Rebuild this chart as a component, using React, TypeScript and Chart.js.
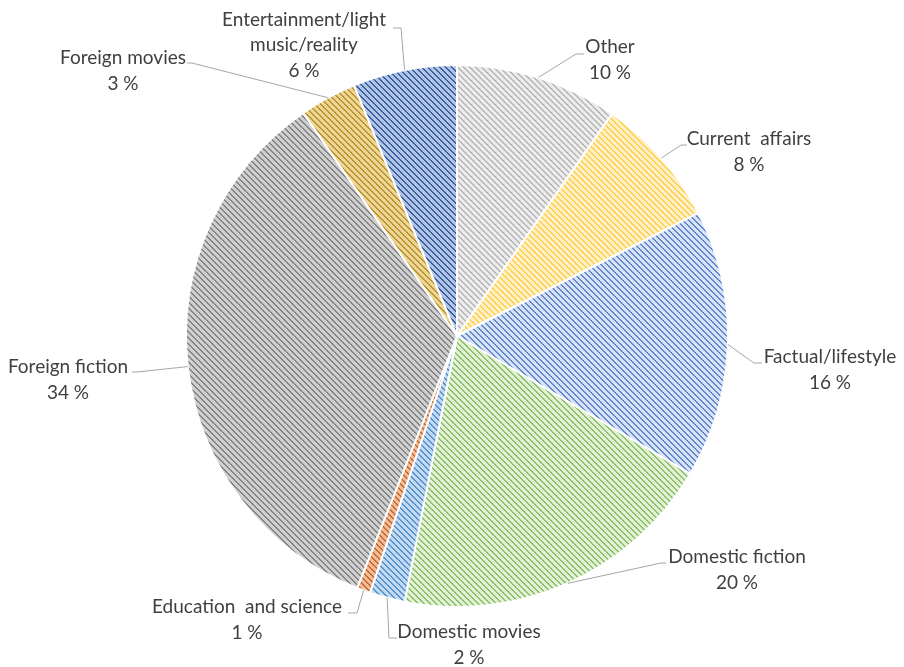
import React, { useEffect, useRef } from "react";
import { Chart, registerables } from "chart.js";

Chart.register(...registerables);

// ---- data ----
const categories: string[][] = [
  ["Other"],
  ["Current  affairs"],
  ["Factual/lifestyle"],
  ["Domestic fiction"],
  ["Domestic movies"],
  ["Education  and science"],
  ["Foreign fiction"],
  ["Foreign movies"],
  ["Entertainment/light", "music/reality"],
];
const shares = [9.7, 7.8, 16.0, 19.6, 2.1, 0.8, 34.4, 3.4, 6.2];

// ---- styles ----
const stripeColors = ["#b8b8b8", "#ffcf52", "#6089d2", "#8cc166", "#5793d0", "#c96a32", "#858585", "#bb962f", "#3a5fa2"];
const baseColors = ["#ebebeb", "#fff0c6", "#d8e2f4", "#e2f0d8", "#c3d9ef", "#f0bd98", "#cfcfcf", "#ecd596", "#b2c4e4"];

// label layout: offsets from pie centre (text block centre, leader elbow, leader end)
const labelLayout = [
  { text: [153, -276], elbow: [119, -282], end: [127, -282] },
  { text: [292, -184], elbow: [224, -191], end: [230, -191] },
  { text: [373, 34], elbow: [297, 27], end: [305, 27] },
  { text: [280, 234], elbow: [204, 227], end: [209, 227] },
  { text: [12, 309], elbow: [-68, 302], end: [-60, 302] },
  { text: [-210, 284], elbow: [-100, 277], end: [-109, 277] },
  { text: [-389, 44], elbow: [-320, 36], end: [-325, 36] },
  { text: [-334, -265], elbow: [-265, -273], end: [-270, -273] },
  { text: [-153, -291], elbow: [-56, -308], end: [-64, -308] },
];

function makePattern(fg: string, bg: string): CanvasPattern | string {
  const s = 6;
  const c = document.createElement("canvas");
  c.width = s;
  c.height = s;
  const g = c.getContext("2d");
  if (!g) return bg;
  g.fillStyle = bg;
  g.fillRect(0, 0, s, s);
  g.fillStyle = fg;
  for (let y = 0; y < s; y++) {
    for (let x = 0; x < s; x++) {
      const d = (((x - y) % s) + s) % s;
      if (d === 0 || d === 1) g.fillRect(x, y, 1, 1);
    }
  }
  const p = g.createPattern(c, "repeat");
  return p || bg;
}

const labelPlugin = {
  id: "pieLabels",
  afterDatasetsDraw(chart: any) {
    const ctx = chart.ctx as CanvasRenderingContext2D;
    const meta = chart.getDatasetMeta(0);
    const total = shares.reduce((a, b) => a + b, 0);
    ctx.save();
    meta.data.forEach((arc: any, i: number) => {
      const p = arc.getProps(["x", "y", "startAngle", "endAngle", "outerRadius"], true);
      const mid = (p.startAngle + p.endAngle) / 2;
      const sx = p.x + Math.cos(mid) * p.outerRadius;
      const sy = p.y + Math.sin(mid) * p.outerRadius;
      const L = labelLayout[i];
      ctx.strokeStyle = "#a6a6a6";
      ctx.lineWidth = 1;
      ctx.beginPath();
      ctx.moveTo(sx, sy);
      ctx.lineTo(p.x + L.elbow[0], p.y + L.elbow[1]);
      ctx.lineTo(p.x + L.end[0], p.y + L.end[1]);
      ctx.stroke();

      const lines = [...categories[i], Math.round((shares[i] / total) * 100) + " %"];
      const lh = 25.5;
      const top = p.y + L.text[1] - ((lines.length - 1) * lh) / 2;
      ctx.fillStyle = "#404040";
      ctx.font = "19px Lato, 'Open Sans', sans-serif";
      ctx.textAlign = "center";
      ctx.textBaseline = "middle";
      lines.forEach((t, k) => ctx.fillText(t, p.x + L.text[0], top + k * lh));
    });
    ctx.restore();
  },
};

export default function App() {
  const ref = useRef<HTMLCanvasElement | null>(null);
  useEffect(() => {
    if (!ref.current) return;
    const patterns = stripeColors.map((c, i) => makePattern(c, baseColors[i]));
    const chart = new Chart(ref.current, {
      type: "pie",
      data: {
        labels: categories.map((c) => c.join(" ")),
        datasets: [
          {
            data: shares,
            backgroundColor: patterns as any,
            borderColor: "#ffffff",
            borderWidth: 2,
          },
        ],
      },
      options: {
        responsive: false,
        maintainAspectRatio: false,
        animation: false,
        layout: { padding: { top: 64, bottom: 59, left: 185, right: 175 } },
        plugins: {
          legend: { display: false },
          tooltip: { enabled: false },
        },
      },
      plugins: [labelPlugin],
    });
    return () => chart.destroy();
  }, []);
  return (
    <div style={{ position: "absolute", left: 0, top: 0, width: 904, height: 667, background: "#fff" }}>
      <canvas ref={ref} width={904} height={667} />
    </div>
  );
}
